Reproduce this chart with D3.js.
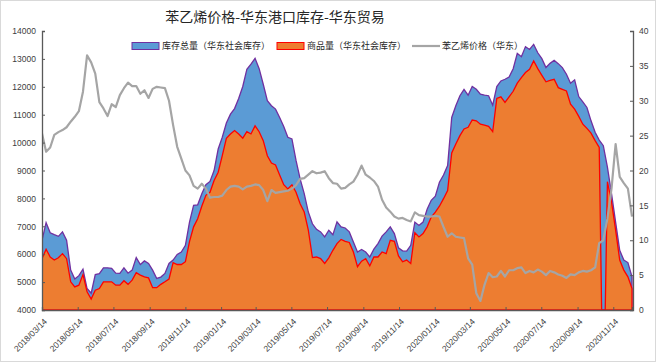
<!DOCTYPE html>
<html>
<head>
<meta charset="utf-8">
<script src="https://cdn.jsdelivr.net/npm/d3@7"></script>
<style>
  body { margin: 0; background: #fff; }
  svg { display: block; font-family: "Noto Sans CJK SC", "Liberation Sans", sans-serif; }
</style>
</head>
<body>
<div id="chart"></div>
<script>
// weekly data, first week 2018/03/14
const startDate = '2018-03-14';

// 库存总量（华东社会库存）
const totalStock = [
  6500, 7130, 6770, 6700, 6640, 6800, 6500, 5430, 5110, 5230,
  5460, 4770, 4600, 5270, 5300, 5510, 5510, 5490, 5320, 5310,
  5510, 5320, 5430, 5880, 5630, 5760, 5670, 5430, 5130, 5180,
  5310, 5670, 5790, 5990, 6080, 6320, 7150, 7750, 7770, 8170,
  8490, 8610, 9000, 9770, 10190, 10700, 11020, 11220, 11580, 12010,
  12630, 12810, 13020, 12650, 12090, 11500, 11320, 11200, 10900, 10580,
  10190, 10130, 9360, 8700, 8170, 7510, 7090, 6890, 6800, 6620,
  6860, 6700, 7160, 6980, 6940, 6800, 6440, 6080, 6170, 6080,
  5900, 6180, 6380, 6650, 6800, 6980, 6740, 6230, 6120, 6110,
  6320, 7150, 7030, 7150, 7610, 7930, 8080, 8580, 8840, 9180,
  10900, 11320, 11680, 11910, 11700, 12010, 11910, 11740, 11700, 11680,
  11340, 12010, 12210, 12270, 12350, 12650, 13200, 13080, 13440, 13340,
  13520, 13220, 13010, 12690, 12840, 12950, 12830, 12690, 12450, 12130,
  12250, 11650, 11460, 11260, 10780, 10370, 10090, 9890, 9120, 8170,
  7150, 6140, 5790, 5700, 5190
];

// 商品量（华东社会库存）
const commodityStock = [
  5840, 6180, 5900, 5790, 5870, 6020, 5840, 5010, 4830, 4890,
  5270, 4650, 4390, 4710, 4770, 5010, 5010, 5010, 4890, 4890,
  5050, 4920, 5070, 5340, 5250, 5190, 5150, 4800, 4800, 4920,
  5010, 5110, 5700, 5630, 5630, 5730, 6450, 6980, 7270, 7720,
  8110, 8220, 8640, 8940, 9530, 10150, 10310, 10430, 10310, 10160,
  10390, 10310, 10600, 10390, 10070, 9530, 9270, 9200, 8840, 8490,
  8340, 8490, 8220, 7810, 7510, 6860, 5880, 5900, 5840, 5670,
  5870, 6140, 6380, 6530, 6460, 6420, 6080, 5550, 5750, 5840,
  5580, 5900, 5900, 6080, 6020, 6500, 6460, 5940, 5730, 5790,
  5670, 6770, 6620, 6740, 6980, 7330, 7510, 7720, 7990, 8280,
  9630, 9950, 10250, 10490, 10550, 10810, 10780, 10660, 10630, 10580,
  10390, 11580, 11640, 11440, 11640, 11840, 12130, 12330, 12510, 12630,
  12930, 12650, 12410, 12180, 12230, 12270, 11970, 11910, 11850, 11380,
  11200, 10940, 10660, 10510, 10340, 10070, 9830, 0, 8600, 7870,
  6860, 5790, 5430, 5190, 4770
];

// 苯乙烯价格（华东）, right axis
const price = [
  25.3, 22.7, 23.3, 25.1, 25.5, 25.8, 26.2, 27.0, 27.7, 28.5,
  31.3, 36.5, 35.5, 33.9, 29.8, 28.9, 27.8, 29.5, 29.1, 30.8,
  31.8, 32.6, 32.1, 32.1, 31.0, 31.5, 30.4, 31.7, 32.0, 31.9,
  31.8, 30.0, 26.5, 23.4, 21.7, 20.0, 19.3, 17.8, 17.4, 18.1,
  17.4, 16.1, 16.2, 16.2, 16.4, 17.2, 17.7, 17.8, 17.7, 17.3,
  17.7, 17.8, 18.0, 17.9, 17.2, 15.6, 17.2, 16.8, 16.9, 17.0,
  17.1, 17.4, 17.9, 18.8, 18.9, 19.4, 19.9, 19.6, 19.7, 19.9,
  18.9, 18.2, 18.1, 17.4, 17.5, 18.0, 18.4, 19.4, 20.7, 19.4,
  19.0, 18.5, 17.7, 15.8, 14.7, 14.1, 13.4, 13.1, 13.2, 12.9,
  12.7, 14.0, 13.6, 13.5, 13.4, 13.4, 13.5, 13.4, 11.9, 10.5,
  11.0, 10.5, 10.4, 10.3, 7.4, 6.5, 2.4, 1.3, 3.6, 5.3,
  4.7, 4.8, 5.6, 4.8, 5.7, 5.7, 6.0, 6.1, 5.3, 5.6,
  5.4, 5.8, 5.5, 5.0, 5.6, 5.4, 5.1, 4.9, 4.6, 5.1,
  5.0, 5.4, 5.6, 5.5, 5.7, 6.1, 9.6, 10.0, 13.1, 17.4,
  23.8, 19.1, 18.2, 17.4, 13.4
];

const xTickLabels = [
  '2018/03/14', '2018/05/14', '2018/07/14', '2018/09/14', '2018/11/14',
  '2019/01/14', '2019/03/14', '2019/05/14', '2019/07/14', '2019/09/14',
  '2019/11/14', '2020/01/14', '2020/03/14', '2020/05/14', '2020/07/14',
  '2020/09/14', '2020/11/14'
];
const leftTicks = [4000, 5000, 6000, 7000, 8000, 9000, 10000, 11000, 12000, 13000, 14000];
const rightTicks = [0, 5, 10, 15, 20, 25, 30, 35, 40];

const seriesNames = ['库存总量（华东社会库存）', '商品量（华东社会库存）', '苯乙烯价格（华东）'];
const title = '苯乙烯价格-华东港口库存-华东贸易';

const W = 658, H = 363;
const margin = { top: 31, right: 25, bottom: 53, left: 42 };

const parse = d3.timeParse('%Y-%m-%d');
const parseTick = d3.timeParse('%Y/%m/%d');
const t0 = parse(startDate);
const dates = totalStock.map((_, i) => d3.timeDay.offset(t0, 7 * i));
const rows = dates.map((d, i) => ({ date: d, total: totalStock[i], goods: commodityStock[i], price: price[i] }));

const svg = d3.select('#chart').append('svg')
  .attr('width', W)
  .attr('height', H);

svg.append('rect')
  .attr('x', 0.5).attr('y', 0.5)
  .attr('width', W - 3).attr('height', H - 2)
  .attr('fill', '#fff')
  .attr('stroke', '#d9d9d9');

const x = d3.scaleTime()
  .domain([dates[0], dates[dates.length - 1]])
  .range([margin.left, W - margin.right - 1]);

const yL = d3.scaleLinear()
  .domain([4000, 14000])
  .range([H - margin.bottom, margin.top]);

const yR = d3.scaleLinear()
  .domain([0, 40])
  .range([H - margin.bottom, margin.top]);

svg.append('defs').append('clipPath').attr('id', 'plot')
  .append('rect')
  .attr('x', margin.left).attr('y', margin.top - 2)
  .attr('width', W - margin.right - margin.left)
  .attr('height', H - margin.bottom - margin.top + 2);

const plot = svg.append('g').attr('clip-path', 'url(#plot)');

const areaTotal = d3.area()
  .x(d => x(d.date))
  .y0(yL(4000))
  .y1(d => yL(d.total));

const areaGoods = d3.area()
  .x(d => x(d.date))
  .y0(yL(4000))
  .y1(d => yL(d.goods));

plot.append('path')
  .datum(rows)
  .attr('d', areaTotal)
  .attr('fill', '#5b9bd5')
  .attr('stroke', '#7030a0')
  .attr('stroke-width', 1.3);

plot.append('path')
  .datum(rows)
  .attr('d', areaGoods)
  .attr('fill', '#ed7d31')
  .attr('stroke', '#ff0000')
  .attr('stroke-width', 1.3);

plot.append('path')
  .datum(rows)
  .attr('d', d3.line().x(d => x(d.date)).y(d => yR(d.price)))
  .attr('fill', 'none')
  .attr('stroke', '#a5a5a5')
  .attr('stroke-width', 2.2)
  .attr('stroke-linejoin', 'round');

// axes (ticks point inward like the original)
const axisColor = '#595959';

const gL = svg.append('g')
  .attr('transform', `translate(${margin.left},0)`)
  .call(d3.axisLeft(yL).tickValues(leftTicks).tickSize(-3).tickPadding(6).tickFormat(d3.format('d')));

const gR = svg.append('g')
  .attr('transform', `translate(${W - margin.right},0)`)
  .call(d3.axisRight(yR).tickValues(rightTicks).tickSize(-3).tickPadding(6));

const gB = svg.append('g')
  .attr('transform', `translate(0,${H - margin.bottom})`)
  .call(d3.axisBottom(x).tickValues(xTickLabels.map(parseTick)).tickSize(-3).tickFormat(d3.timeFormat('%Y/%m/%d')));

[gL, gR, gB].forEach(g => {
  g.select('.domain').attr('stroke', axisColor).attr('stroke-width', 1.3);
  g.selectAll('.tick line').attr('stroke', axisColor);
  g.selectAll('.tick text')
    .attr('fill', '#404040')
    .style('font-family', '"Liberation Sans", sans-serif')
    .style('font-size', '8.5px');
});

gB.selectAll('.tick text')
  .attr('text-anchor', 'end')
  .attr('dy', 0)
  .attr('transform', 'translate(3,10) rotate(-45)');

// title
svg.append('text')
  .attr('x', 275)
  .attr('y', 22)
  .attr('text-anchor', 'middle')
  .attr('fill', '#262626')
  .style('font-size', '14px')
  .text(title);

// legend
const legend = svg.append('g').attr('transform', 'translate(132,46)');
const lg = [
  { x: 0, type: 'rect', fill: '#5b9bd5', stroke: '#7030a0' },
  { x: 145, type: 'rect', fill: '#ed7d31', stroke: '#ff0000' },
  { x: 280, type: 'line', stroke: '#a5a5a5' }
];
lg.forEach((d, i) => {
  if (d.type === 'rect') {
    legend.append('rect')
      .attr('x', d.x).attr('y', -3.5)
      .attr('width', 27).attr('height', 7)
      .attr('fill', d.fill).attr('stroke', d.stroke).attr('stroke-width', 1);
  } else {
    legend.append('line')
      .attr('x1', d.x).attr('x2', d.x + 28)
      .attr('stroke', d.stroke).attr('stroke-width', 2.2);
  }
  legend.append('text')
    .attr('x', d.x + 30)
    .attr('dy', '0.35em')
    .attr('fill', '#262626')
    .style('font-size', '9px')
    .text(seriesNames[i]);
});
</script>
</body>
</html>
